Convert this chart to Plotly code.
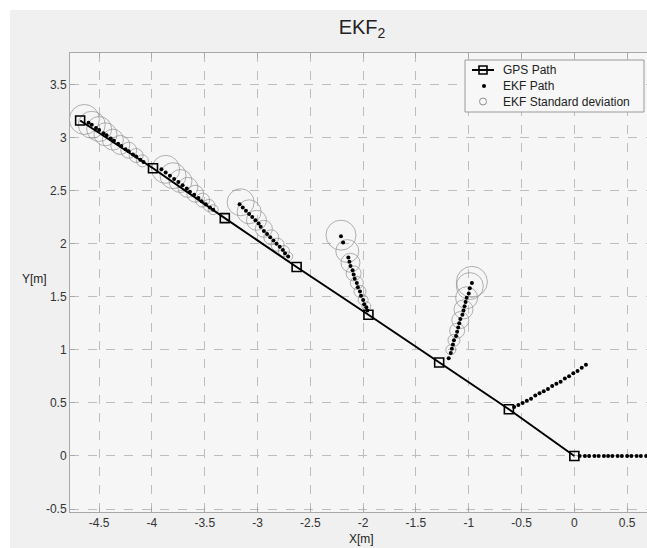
import plotly.graph_objects as go

# ---------------- data ----------------
gps_x = [-4.68, -3.99, -3.31, -2.63, -1.95, -1.28, -0.62, 0.0]
gps_y = [3.16, 2.71, 2.24, 1.78, 1.33, 0.88, 0.44, 0.0]

# EKF path segments (dots)
segA_x = [0.05, 0.10, 0.14, 0.19, 0.23, 0.28, 0.32, 0.36, 0.41, 0.45, 0.50, 0.54, 0.59, 0.63, 0.68]
segA_y = [0.0] * 15
segB_x = [-0.57, -0.53, -0.49, -0.45, -0.41, -0.37, -0.33, -0.29, -0.25, -0.21, -0.17, -0.13, -0.09, -0.05, -0.01, 0.03, 0.07, 0.11]
segB_y = [0.46, 0.48, 0.50, 0.52, 0.54, 0.57, 0.59, 0.61, 0.63, 0.66, 0.68, 0.70, 0.73, 0.75, 0.78, 0.80, 0.83, 0.86]
segC_x = [-0.97, -0.99, -1.00, -1.02, -1.03, -1.04, -1.05, -1.06, -1.08, -1.09, -1.10, -1.11, -1.12, -1.14, -1.15, -1.16, -1.17, -1.19]
segC_y = [1.63, 1.58, 1.53, 1.49, 1.45, 1.41, 1.37, 1.33, 1.29, 1.25, 1.21, 1.17, 1.13, 1.09, 1.05, 1.01, 0.97, 0.92]
segD_x = [-2.21, -2.19, -2.14, -2.13, -2.12, -2.10, -2.09, -2.08, -2.06, -2.05, -2.03, -2.02, -2.00, -1.99, -1.97, -1.96]
segD_y = [2.07, 2.01, 1.87, 1.83, 1.79, 1.75, 1.71, 1.67, 1.63, 1.59, 1.55, 1.51, 1.47, 1.43, 1.40, 1.37]
segE_x = [-3.17, -3.14, -3.11, -3.08, -3.05, -3.02, -2.99, -2.97, -2.94, -2.91, -2.88, -2.85, -2.82, -2.79, -2.76, -2.74, -2.71]
segE_y = [2.37, 2.34, 2.31, 2.28, 2.25, 2.22, 2.19, 2.16, 2.12, 2.09, 2.06, 2.03, 2.00, 1.97, 1.94, 1.91, 1.88]
segF_x = [-3.91, -3.87, -3.83, -3.79, -3.75, -3.71, -3.67, -3.64, -3.60, -3.56, -3.53, -3.49, -3.45, -3.42]
segF_y = [2.70, 2.67, 2.64, 2.61, 2.58, 2.55, 2.52, 2.49, 2.46, 2.43, 2.40, 2.37, 2.34, 2.32]
segG_x = [-4.60, -4.57, -4.53, -4.50, -4.46, -4.43, -4.39, -4.36, -4.32, -4.29, -4.25, -4.22, -4.18, -4.15, -4.11, -4.08]
segG_y = [3.14, 3.12, 3.09, 3.07, 3.04, 3.02, 2.99, 2.97, 2.94, 2.92, 2.89, 2.87, 2.84, 2.82, 2.79, 2.77]

# EKF standard deviation circles (centre x, centre y, diameter in px)
sdC_x = [-0.97, -0.99, -1.02, -1.05, -1.08, -1.11, -1.14, -1.17]
sdC_y = [1.64, 1.60, 1.49, 1.38, 1.28, 1.18, 1.09, 1.00]
sdC_d = [31, 27, 22, 19, 17, 15, 12, 10]
sdD_x = [-2.21, -2.15, -2.12, -2.09, -2.06, -2.03, -2.00, -1.97]
sdD_y = [2.08, 1.93, 1.82, 1.72, 1.63, 1.55, 1.47, 1.41]
sdD_d = [30, 23, 19, 15, 13, 12, 10, 9]
sdE_x = [-3.16, -3.08, -3.01, -2.94, -2.87, -2.81, -2.75, -2.71]
sdE_y = [2.39, 2.30, 2.22, 2.14, 2.06, 1.99, 1.93, 1.88]
sdE_d = [27, 24, 20, 17, 15, 13, 11, 9]
sdF_x = [-3.87, -3.80, -3.73, -3.66, -3.59, -3.52, -3.46, -3.42]
sdF_y = [2.70, 2.64, 2.59, 2.53, 2.47, 2.41, 2.36, 2.32]
sdF_d = [28, 26, 23, 20, 17, 14, 12, 10]
sdG_x = [-4.64, -4.57, -4.50, -4.44, -4.37, -4.30, -4.22, -4.15, -4.09]
sdG_y = [3.17, 3.12, 3.08, 3.03, 2.98, 2.93, 2.88, 2.83, 2.78]
sdG_d = [30, 27, 25, 23, 21, 19, 16, 14, 12]

x_ticks = [-4.5, -4, -3.5, -3, -2.5, -2, -1.5, -1, -0.5, 0, 0.5]
y_ticks = [-0.5, 0, 0.5, 1, 1.5, 2, 2.5, 3, 3.5]
legend_names = ["GPS Path", "EKF Path", "EKF Standard deviation"]

# ---------------- assemble ----------------
ekf_x, ekf_y = [], []
for sx, sy in [(segA_x, segA_y), (segB_x, segB_y), (segC_x, segC_y), (segD_x, segD_y),
               (segE_x, segE_y), (segF_x, segF_y), (segG_x, segG_y)]:
    ekf_x += sx
    ekf_y += sy

sd_x, sd_y, sd_d = [], [], []
for cx, cy, cd in [(sdC_x, sdC_y, sdC_d), (sdD_x, sdD_y, sdD_d), (sdE_x, sdE_y, sdE_d),
                   (sdF_x, sdF_y, sdF_d), (sdG_x, sdG_y, sdG_d)]:
    sd_x += cx
    sd_y += cy
    sd_d += cd

W, H = 647, 548
L, R, T, B = 70, 0, 53, 36
pw, ph = W - L - R, H - T - B


def px(xp):
    return (xp - L) / pw


def py(yp):
    return (H - B - yp) / ph


circle_col = "#909090"
FONT = "Liberation Sans, Arial"
fig = go.Figure()

fig.add_trace(go.Scatter(x=sd_x, y=sd_y, mode="markers", showlegend=False,
                         marker=dict(symbol="circle-open", size=sd_d, color=circle_col,
                                     line=dict(width=1, color=circle_col))))
fig.add_trace(go.Scatter(x=gps_x, y=gps_y, mode="lines+markers", showlegend=False,
                         line=dict(color="black", width=2),
                         marker=dict(symbol="square-open", size=9, color="black",
                                     line=dict(width=1.6, color="black"))))
fig.add_trace(go.Scatter(x=ekf_x, y=ekf_y, mode="markers", showlegend=False,
                         marker=dict(symbol="circle", size=4, color="black")))

# ---- hand-made legend (pixel-coordinate overlay axes) ----
box = dict(x0=465, x1=644, y0=60, y1=112)
row_y = [70, 86, 101.5]
sym_x = 483
fig.add_trace(go.Scatter(x=[box["x0"], box["x1"], box["x1"], box["x0"], box["x0"]],
                         y=[box["y0"], box["y0"], box["y1"], box["y1"], box["y0"]],
                         xaxis="x2", yaxis="y2", mode="lines", fill="toself",
                         fillcolor="#f7f7f7", line=dict(color="#9a9a9a", width=1),
                         showlegend=False, hoverinfo="skip", cliponaxis=False))
fig.add_trace(go.Scatter(x=[472, 494], y=[row_y[0], row_y[0]], xaxis="x2", yaxis="y2",
                         mode="lines", line=dict(color="black", width=2),
                         showlegend=False, hoverinfo="skip", cliponaxis=False))
fig.add_trace(go.Scatter(x=[sym_x], y=[row_y[0]], xaxis="x2", yaxis="y2", mode="markers",
                         marker=dict(symbol="square-open", size=8, color="black",
                                     line=dict(width=1.6, color="black")),
                         showlegend=False, hoverinfo="skip", cliponaxis=False))
fig.add_trace(go.Scatter(x=[sym_x + 1], y=[row_y[1]], xaxis="x2", yaxis="y2", mode="markers",
                         marker=dict(symbol="circle", size=4, color="black"),
                         showlegend=False, hoverinfo="skip", cliponaxis=False))
fig.add_trace(go.Scatter(x=[sym_x], y=[row_y[2]], xaxis="x2", yaxis="y2", mode="markers",
                         marker=dict(symbol="circle-open", size=7, color=circle_col,
                                     line=dict(width=1, color=circle_col)),
                         showlegend=False, hoverinfo="skip", cliponaxis=False))

axis_common = dict(showgrid=True, gridcolor="#bdbdbd", griddash="dash", gridwidth=1,
                   zeroline=False, showline=True, linecolor="#a8a8a8", linewidth=1,
                   ticks="inside", ticklen=5, tickcolor="#a8a8a8",
                   tickfont=dict(family=FONT, size=12, color="#333333"))

annotations = [
    dict(text="X[m]", xref="paper", yref="paper", x=px(362), y=py(539),
         xanchor="center", yanchor="middle", showarrow=False,
         font=dict(family=FONT, size=12, color="#222222")),
    dict(text="Y[m]", xref="paper", yref="paper", x=px(34), y=py(279),
         xanchor="center", yanchor="middle", showarrow=False,
         font=dict(family=FONT, size=12, color="#222222")),
]
for name, ry in zip(legend_names, row_y):
    annotations.append(dict(text=name, xref="paper", yref="paper", x=px(501), y=py(ry),
                            xanchor="left", yanchor="middle", showarrow=False,
                            font=dict(family=FONT, size=12, color="#222222")))

fig.update_layout(
    width=W, height=H,
    margin=dict(l=L, r=R, t=T, b=B),
    paper_bgcolor="white",
    plot_bgcolor="rgba(0,0,0,0)",
    showlegend=False,
    title=dict(text="EKF<sub>2</sub>", x=px(362), xref="paper", xanchor="center",
               y=1 - 27 / H, yanchor="middle",
               font=dict(family=FONT, size=20, color="#222222")),
    xaxis=dict(range=[-4.776, 0.688], tickvals=x_ticks, ticktext=[str(v) for v in x_ticks],
               mirror="ticks", **axis_common),
    yaxis=dict(range=[-0.528, 3.796], tickvals=y_ticks, ticktext=[str(v) for v in y_ticks],
               mirror=False, **axis_common),
    xaxis2=dict(overlaying="x", range=[L, W], visible=False, fixedrange=True),
    yaxis2=dict(overlaying="y", range=[H - B, T], visible=False, fixedrange=True),
    shapes=[
        dict(type="rect", xref="paper", yref="paper", x0=px(10), x1=px(W + 5), y0=py(H + 5), y1=py(10),
             fillcolor="#f0f0f0", line=dict(width=0), layer="below"),
        dict(type="rect", xref="paper", yref="paper", x0=0, x1=1, y0=0, y1=1,
             fillcolor="#f6f6f6", line=dict(width=0), layer="below"),
    ],
    annotations=annotations,
)

fig.write_html("out.html", config={"displayModeBar": False},
               post_script="document.body.style.margin='0';document.body.style.overflow='hidden';")
